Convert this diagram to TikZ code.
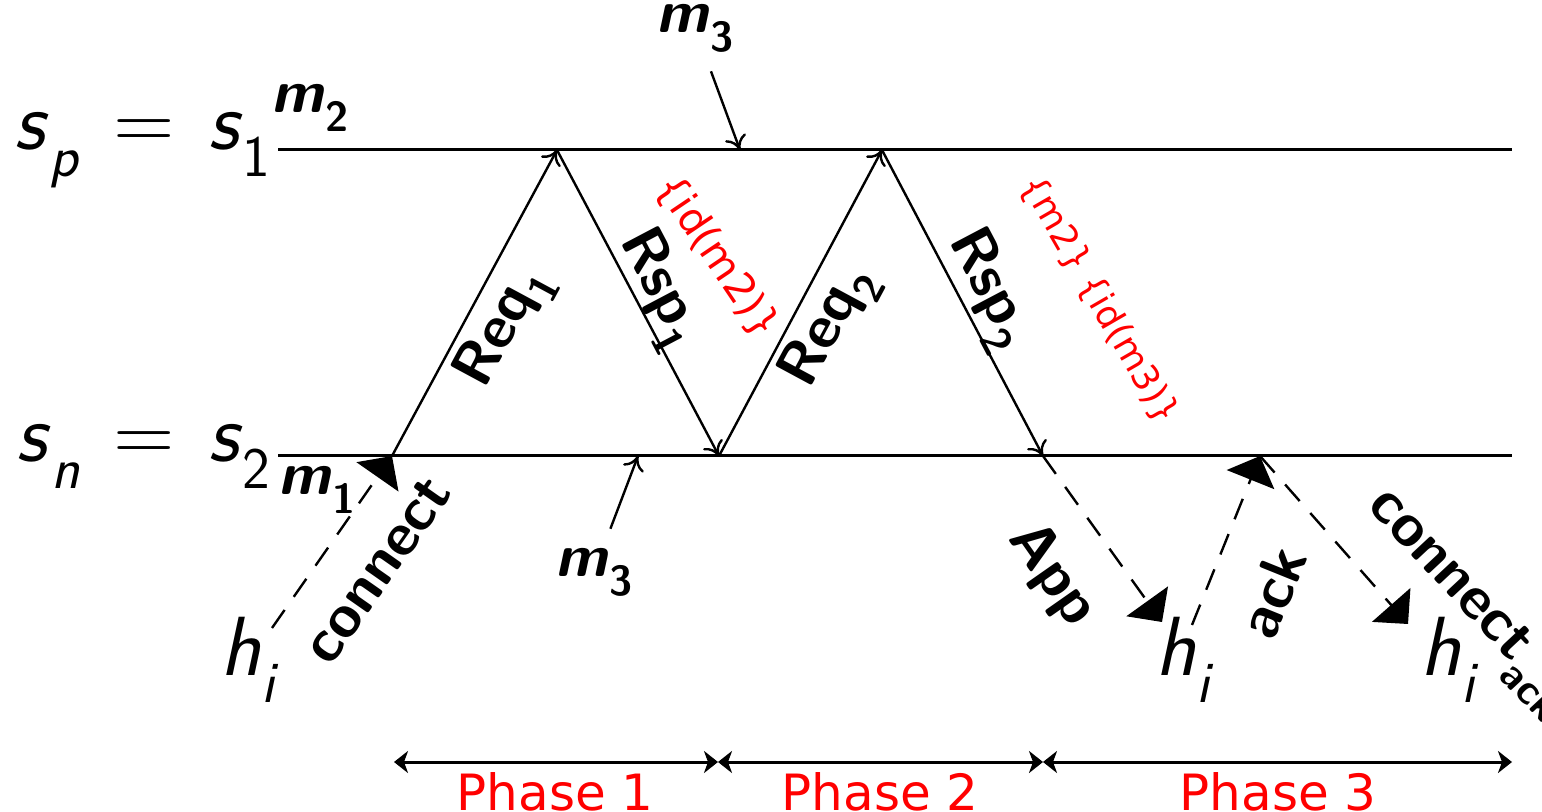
\documentclass[tikz,border=0pt]{standalone}
\usepackage{fontspec}
\usepackage{graphicx}
\usetikzlibrary{arrows.meta}
\newfontfamily\redfont{DejaVu Sans}
\newcommand\sbs[1]{\raisebox{-0.32em}{\scalebox{0.7}{#1}}}
\newcommand\eqsign{\hspace{0.4em}=\hspace{0.4em}}
\tikzset{
  tline/.style={line width=1.5pt},
  msg/.style={line width=1.2pt,-{To[length=7pt,width=11pt]}},
  dsh/.style={line width=1.2pt,dash pattern=on 11pt off 8pt,-{Triangle[angle=90:18pt]}},
  bigtxt/.style={inner sep=0pt,font=\fontsize{42}{50}\selectfont\sffamily},
  lbl/.style={inner sep=0pt,font=\fontsize{30}{36}\selectfont\sffamily\bfseries},
  redtxt/.style={inner sep=0pt,text=red,font=\fontsize{19}{22}\selectfont\redfont},
  phtxt/.style={inner sep=0pt,text=red,font=\fontsize{25}{30}\selectfont\redfont},
  phase/.style={line width=1.5pt,{Stealth[length=7pt,width=11pt,inset=2pt]}-{Stealth[length=7pt,width=11pt,inset=2pt]}}
}
\begin{document}
\begin{tikzpicture}[x=0.5pt,y=-0.5pt]
\useasboundingbox (0,0) rectangle (1542,812);
% process lines
\node[bigtxt,anchor=east] (sp) at (271,150) {\textit{s}\sbs{\textit{p}}\eqsign\textit{s}\sbs{1}};
\node[bigtxt,anchor=east] (sn) at (271,456) {\textit{s}\sbs{\textit{n}}\eqsign\textit{s}\sbs{2}};
\coordinate (t0) at (278,150);
\coordinate (t1) at (1512,150);
\coordinate (b0) at (278,456);
\coordinate (b1) at (1512,456);
\draw[tline] (t0) -- (t1);
\draw[tline] (b0) -- (b1);
% message points
\coordinate (A) at (392,456);
\coordinate (B) at (557,150);
\coordinate (C) at (719,456);
\coordinate (D) at (882,150);
\coordinate (E) at (1043,456);
\coordinate (F) at (1260,456);
\draw[msg] (A) -- (B);
\draw[msg] (B) -- (C);
\draw[msg] (C) -- (D);
\draw[msg] (D) -- (E);
% labels on messages
\node[lbl,rotate=61.7] (req1) at (505,328) {Req\sbs{1}};
\node[lbl,rotate=-62.2] (rsp1) at (658,290) {Rsp\sbs{1}};
\node[lbl,rotate=61.7] (req2) at (830,328) {Req\sbs{2}};
\node[lbl,rotate=-62.2] (rsp2) at (987,290) {Rsp\sbs{2}};
\node[redtxt,rotate=-56,font=\fontsize{20.5}{24}\selectfont\redfont] (idm2) at (717,257) {\{id(m2)\}};
\node[redtxt,rotate=-60,font=\fontsize{18}{22}\selectfont\redfont] (idm3) at (1099,300) {\{m2\} \{id(m3)\}};
% m labels
\node[lbl] (m2) at (310,108) {\textit{m}\sbs{2}};
\node[lbl] (m1) at (317,490) {\textit{m}\sbs{1}};
\node[lbl] (m3a) at (695,28) {\textit{m}\sbs{3}};
\node[lbl] (m3b) at (594,572) {\textit{m}\sbs{3}};
\coordinate (m3at) at (740,150);
\coordinate (m3bt) at (638,456);
\draw[msg,shorten <=10pt] (m3a) -- (m3at);
\draw[msg,shorten <=10pt] (m3b) -- (m3bt);
% hosts
\node[bigtxt] (h1) at (250,660) {\textit{h}\sbs{\textit{i}}};
\node[bigtxt] (h2) at (1185,660) {\textit{h}\sbs{\textit{i}}};
\node[bigtxt] (h3) at (1450,660) {\textit{h}\sbs{\textit{i}}};
\coordinate (c1) at (272,628);
\coordinate (a1) at (1162,622);
\coordinate (k1) at (1192,625);
\coordinate (ca1) at (1408,624);
\draw[dsh] (c1) -- (A);
\draw[dsh] (E) -- (a1);
\draw[dsh] (k1) -- (F);
\draw[dsh] (F) -- (ca1);
\node[lbl,rotate=55] (conn) at (378,570) {connect};
\node[lbl,rotate=-55] (app) at (1052,575) {App};
\node[lbl,rotate=68] (ack) at (1272,592) {ack};
\node[lbl,rotate=-47,anchor=north west] (cack) at (1392,482) {connect\sbs{ack}};
% phases
\coordinate (p0) at (394,762);
\coordinate (p1) at (718,762);
\coordinate (p2) at (1043,762);
\coordinate (p3) at (1512,762);
\draw[phase] (p0) -- (p1);
\draw[phase] (p1) -- (p2);
\draw[phase] (p2) -- (p3);
\node[phtxt] (ph1) at (555,792) {Phase 1};
\node[phtxt] (ph2) at (880,792) {Phase 2};
\node[phtxt] (ph3) at (1278,792) {Phase 3};
\end{tikzpicture}
\end{document}
